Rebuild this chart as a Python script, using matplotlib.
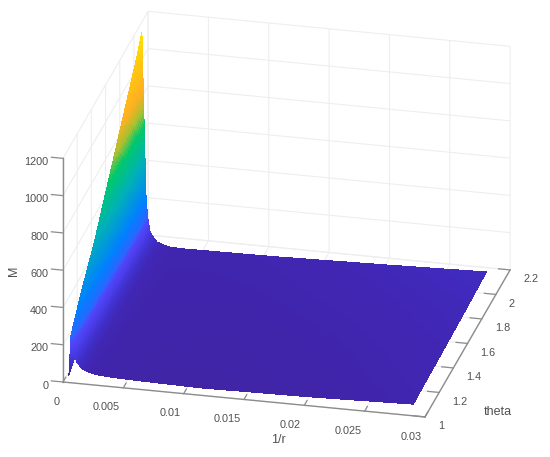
# plot.py
# M over 1/r and theta, orthographic 3D surface
import numpy as np
import matplotlib
matplotlib.use('Agg')
import matplotlib.pyplot as plt
from matplotlib.colors import LinearSegmentedColormap, Normalize
from matplotlib.tri import Triangulation, UniformTriRefiner, LinearTriInterpolator
from mpl_toolkits.mplot3d import proj3d

plt.rcParams['font.family'] = ['Liberation Sans', 'DejaVu Sans']

# ---- data ----
one_over_r = [0.00025, 0.00045, 0.0006, 0.00076, 0.00093, 0.0012, 0.0015,
              0.002, 0.0026, 0.0035, 0.005, 0.011, 0.02, 0.0288]
theta = [1.04, 1.07, 1.2, 1.4, 1.6, 1.8, 2.0, 2.07]
M_values = [
    [10, 50, 85, 107, 85, 62, 48, 36, 28, 24, 20, 12, 20, 35],
    [206, 150, 125, 100, 85, 63, 50, 37, 29, 25, 21, 14, 22, 36],
    [330, 220, 150, 110, 90, 66, 52, 38, 30, 26, 23, 18, 26, 40],
    [490, 290, 175, 125, 95, 70, 54, 40, 32, 28, 25, 22, 30, 45],
    [690, 380, 205, 140, 100, 74, 55, 42, 34, 30, 28, 26, 36, 50],
    [890, 480, 235, 150, 105, 77, 56, 44, 36, 32, 31, 32, 42, 56],
    [1090, 580, 265, 165, 110, 80, 58, 46, 38, 34, 34, 37, 49, 64],
    [1175, 640, 275, 170, 107, 80, 57, 46, 37, 34, 35, 39, 52, 67],
]
x_ticks = [0, 0.005, 0.01, 0.015, 0.02, 0.025, 0.03]
x_tick_labels = ['0', '0.005', '0.01', '0.015', '0.02', '0.025', '0.03']
y_ticks = [1, 1.2, 1.4, 1.6, 1.8, 2, 2.2]
y_tick_labels = ['1', '1.2', '1.4', '1.6', '1.8', '2', '2.2']
z_ticks = [0, 200, 400, 600, 800, 1000, 1200]
z_tick_labels = ['0', '200', '400', '600', '800', '1000', '1200']

# colour stops, M value -> colour
cmap_levels = [0, 45, 80, 120, 170, 195, 290, 500, 680, 770, 880, 1050, 1200]
cmap_colors = ['#40249f', '#4026b4', '#4030cc', '#4a3ce8', '#5046fa', '#2a66ff', '#0080ff',
               '#00b0b8', '#00c86c', '#a8c030', '#ffb020', '#ffc810', '#ffe800']

GRAY = '#505050'
AXIS = '#8c8c8c'
GRID = '#eeeeee'

fig = plt.figure(figsize=(5.5, 4.57), dpi=100)
ax = fig.add_axes([0, 0, 1, 1], projection='3d', proj_type='ortho')
ax.view_init(elev=24.1, azim=-76.7)
ax.set_box_aspect((372, 370, 245))
ax.set_xlim(0, 0.03, view_margin=0)
ax.set_ylim(1, 2.2, view_margin=0)
ax.set_zlim(0, 1200, view_margin=0)

# ---- surface ----
xx, yy = np.meshgrid(one_over_r, theta)
zz = np.array(M_values, dtype=float)
n_rows, n_cols = zz.shape
tris = []
for i in range(n_rows - 1):
    for j in range(n_cols - 1):
        a = i * n_cols + j
        tris.append([a, a + 1, a + n_cols])
        tris.append([a + 1, a + n_cols + 1, a + n_cols])
tri = Triangulation(xx.ravel(), yy.ravel(), np.array(tris))
refiner = UniformTriRefiner(tri)
fine_tri, fine_z = refiner.refine_field(
    zz.ravel(), triinterpolator=LinearTriInterpolator(tri, zz.ravel()), subdiv=4)

cmap = LinearSegmentedColormap.from_list(
    'm_map', [(v / 1200, c) for v, c in zip(cmap_levels, cmap_colors)])
surf = ax.plot_trisurf(fine_tri, fine_z, cmap=cmap, norm=Normalize(0, 1200),
                       linewidth=0, antialiased=False, shade=False)

# ---- axes look ----
ax.set_xticks(x_ticks, x_tick_labels)
ax.set_yticks(y_ticks, y_tick_labels)
ax.set_zticks(z_ticks, z_tick_labels)
ax.zaxis.set_ticks_position('lower')
ax.zaxis._get_tickdir = lambda pos: 0  # z ticks point left, along 1/r
for axis in (ax.xaxis, ax.yaxis, ax.zaxis):
    axis.set_pane_color((1, 1, 1, 0))
    axis.pane.set_edgecolor((1, 1, 1, 0))
    axis.line.set_color(AXIS)
    axis.line.set_linewidth(1.0)
    axis._axinfo['grid'].update(color=GRID, linewidth=0.8)
    axis._axinfo['tick'].update(inward_factor=0.0, outward_factor=0.4,
                                color=AXIS, linewidth={True: 0.9, False: 0.5})
ax.tick_params(labelsize=7.8, labelcolor=GRAY, color=AXIS)
ax.tick_params(axis='x', pad=0.3)
ax.tick_params(axis='y', pad=-0.4)
ax.tick_params(axis='z', pad=-1)
for lab in ax.get_xticklabels():
    lab.set(ha='right', va='top')
for lab in ax.get_yticklabels():
    lab.set(ha='left', va='center')
for lab in ax.get_zticklabels():
    lab.set(ha='right', va='center')

# ---- place the box on the page ----
def corner_px(x, y, z):
    px, py, _ = proj3d.proj_transform(x, y, z, ax.get_proj())
    return ax.transData.transform((px, py))

fig.canvas.draw()
p0 = corner_px(0, 1, 0)
p1 = corner_px(0.03, 1, 0)
k = (425 - 63) / (p1[0] - p0[0])
bb = ax.get_window_extent()
cx, cy = (bb.x0 + bb.x1) / 2, (bb.y0 + bb.y1) / 2
new_c = np.array([63, 457 - 382]) - k * (p0 - np.array([cx, cy]))
w, h = bb.width * k, bb.height * k
ax.set_position([(new_c[0] - w / 2) / 550, (new_c[1] - h / 2) / 457, w / 550, h / 457])

fig.text(14 / 550, 1 - 271 / 457, 'M', rotation=90, fontsize=9, color=GRAY,
         ha='center', va='center')
fig.text(278 / 550, 1 - 440 / 457, '1/r', fontsize=9, color=GRAY, ha='center', va='center')
fig.text(498 / 550, 1 - 412 / 457, 'theta', fontsize=9, color=GRAY, ha='center', va='center')

fig.savefig('out.png', dpi=100)
